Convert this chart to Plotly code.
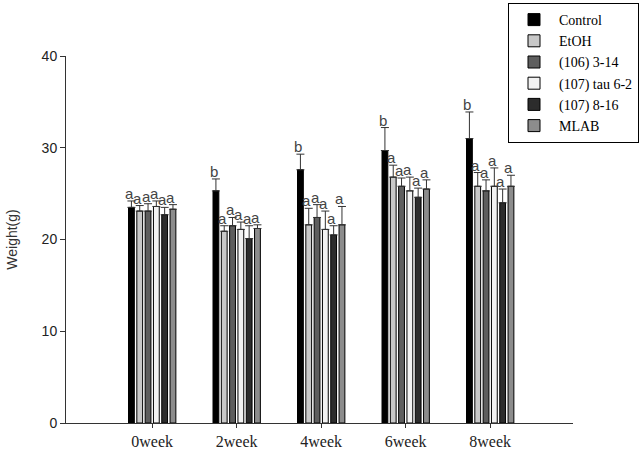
import plotly.graph_objects as go

weeks = ["0week", "2week", "4week", "6week", "8week"]
series_names = ["Control", "EtOH", "(106) 3-14", "(107) tau 6-2", "(107) 8-16", "MLAB"]

control = [23.5, 25.3, 27.6, 29.7, 31.0]
etoh = [23.1, 20.9, 21.6, 26.8, 25.8]
s106_314 = [23.1, 21.5, 22.4, 25.8, 25.3]
s107_tau = [23.6, 21.1, 21.1, 25.3, 25.8]
s107_816 = [22.7, 20.1, 20.5, 24.6, 24.0]
mlab = [23.3, 21.2, 21.6, 25.5, 25.8]

control_err = [0.7, 1.3, 1.7, 2.5, 2.9]
etoh_err = [0.6, 0.6, 1.8, 1.3, 1.5]
s106_err = [0.8, 0.9, 1.4, 0.9, 1.2]
s107_tau_err = [0.6, 0.8, 2.0, 1.5, 2.0]
s107_816_err = [0.8, 1.4, 1.0, 1.0, 1.5]
mlab_err = [0.5, 0.4, 2.0, 1.0, 1.2]

control_sig = ["a", "b", "b", "b", "b"]
etoh_sig = ["a", "a", "a", "a", "a"]
s106_sig = ["a", "a", "a", "a", "a"]
s107_tau_sig = ["a", "a", "a", "a", "a"]
s107_816_sig = ["a", "a", "a", "a", "a"]
mlab_sig = ["a", "a", "a", "a", "a"]

values = [control, etoh, s106_314, s107_tau, s107_816, mlab]
errors = [control_err, etoh_err, s106_err, s107_tau_err, s107_816_err, mlab_err]
sigs = [control_sig, etoh_sig, s106_sig, s107_tau_sig, s107_816_sig, mlab_sig]
colors = ["#000000", "#c8c8c8", "#5e5e5e", "#f2f2f2", "#2c2c2c", "#8c8c8c"]

W, H = 644, 454
ml, mr, mt, mb = 66, 71, 56, 31
bargap = 0.41
xrange_ = [-1.02, 4.98]
plot_w = W - ml - mr
plot_h = H - mt - mb
cat_px = plot_w / (xrange_[1] - xrange_[0])
slot_px = cat_px * (1 - bargap) / len(series_names)

fig = go.Figure()
for i, (name, vals, errs, col) in enumerate(zip(series_names, values, errors, colors)):
    fig.add_trace(go.Bar(
        name=name, x=list(range(len(weeks))), y=vals,
        marker=dict(color=col, line=dict(color="#000000", width=1)),
        error_y=dict(type="data", array=errs, arrayminus=[0] * len(errs), symmetric=False,
                     color="#333333", thickness=1, width=4),
    ))

annotations = []
for i, (vals, errs, sg) in enumerate(zip(values, errors, sigs)):
    for j in range(len(weeks)):
        annotations.append(dict(
            x=j, y=vals[j] + errs[j], text=sg[j], showarrow=False,
            xref="x", yref="y", xanchor="center", yanchor="bottom",
            xshift=(i - 2.5) * slot_px - 2, yshift=-3,
            font=dict(family="Liberation Sans, Arial", size=15, color="#444444"),
        ))

fig.update_layout(
    width=W, height=H,
    margin=dict(l=ml, r=mr, t=mt, b=mb, autoexpand=False),
    paper_bgcolor="white", plot_bgcolor="white",
    barmode="group", bargap=bargap, bargroupgap=0.3,
    showlegend=True,
    legend=dict(
        x=(508 - ml) / plot_w, y=(H - mb - 3) / plot_h, xanchor="left", yanchor="top",
        bordercolor="#000000", borderwidth=1, bgcolor="white",
        font=dict(family="Liberation Serif, Times New Roman", size=14, color="#000000"),
        itemwidth=40, tracegroupgap=0,
    ),
    xaxis=dict(
        range=xrange_, tickmode="array", tickvals=list(range(len(weeks))), ticktext=weeks,
        showline=True, linecolor="#333333", linewidth=1, ticks="outside", ticklen=4,
        tickcolor="#333333", showgrid=False, zeroline=False, automargin=False,
        tickfont=dict(family="Liberation Serif, Times New Roman", size=16, color="#222222"),
    ),
    yaxis=dict(
        range=[0, 40], tickvals=[0, 10, 20, 30, 40],
        showline=True, linecolor="#333333", linewidth=1, ticks="outside", ticklen=5,
        tickcolor="#333333", showgrid=False, zeroline=False, automargin=False,
        tickfont=dict(family="Liberation Sans, Arial", size=14, color="#222222"),
        title=dict(text="Weight(g)", standoff=20,
                   font=dict(family="Liberation Sans, Arial", size=14, color="#333333")),
    ),
    annotations=annotations,
)

fig.write_html("out.html")
